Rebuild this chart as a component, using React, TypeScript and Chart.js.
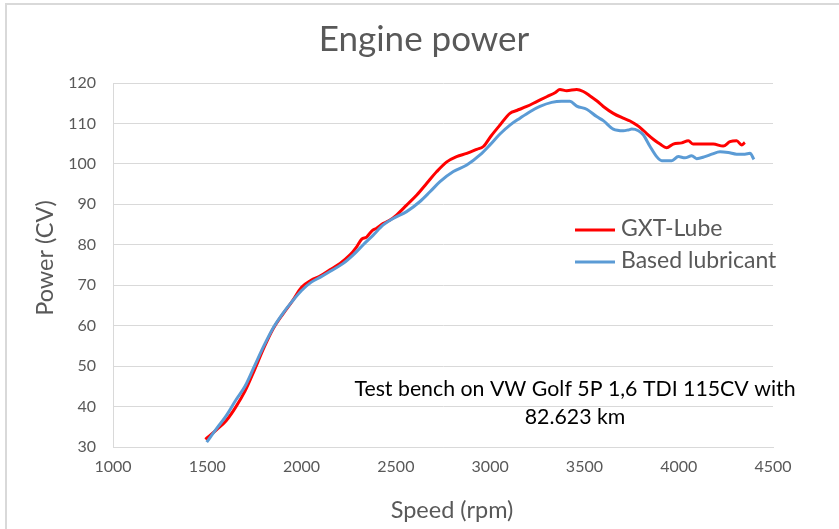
import React, { useEffect, useRef } from "react";
import { Chart, registerables } from "chart.js";

Chart.register(...registerables);

const gxtRpm = [1490, 1550, 1600, 1650, 1700, 1750, 1800, 1850, 1900, 1950, 2000, 2050, 2100, 2150, 2204, 2257, 2292, 2319, 2345, 2372, 2398, 2434, 2469, 2505, 2557, 2611, 2664, 2717, 2770, 2822, 2876, 2929, 2964, 3005, 3052, 3105, 3141, 3194, 3247, 3300, 3344, 3370, 3406, 3459, 3494, 3530, 3565, 3600, 3653, 3706, 3742, 3777, 3800, 3830, 3865, 3901, 3936, 3971, 4016, 4051, 4077, 4130, 4183, 4236, 4272, 4307, 4334, 4351];
const gxtPower = [31.9, 34.3, 36.5, 39.8, 43.8, 49, 54.5, 59.3, 62.8, 66, 69.5, 71.2, 72.3, 73.8, 75.4, 77.5, 79.5, 81.4, 81.9, 83.4, 84.1, 85.3, 86.1, 87.4, 89.8, 92.3, 95.2, 98.1, 100.5, 101.8, 102.6, 103.6, 104.3, 106.9, 109.6, 112.5, 113.2, 114.2, 115.4, 116.6, 117.6, 118.4, 118.1, 118.4, 117.9, 116.8, 115.6, 114.2, 112.5, 111.3, 110.6, 109.6, 108.8, 107.5, 106.1, 104.9, 104, 104.9, 105.2, 105.7, 104.9, 104.9, 104.9, 104.4, 105.5, 105.7, 104.7, 105.3];

const baseRpm = [1497, 1550, 1600, 1650, 1700, 1750, 1800, 1850, 1900, 1950, 2000, 2050, 2100, 2150, 2221, 2274, 2327, 2380, 2433, 2486, 2557, 2628, 2681, 2734, 2805, 2876, 2946, 2999, 3052, 3105, 3158, 3211, 3264, 3326, 3379, 3423, 3459, 3512, 3565, 3600, 3653, 3706, 3733, 3751, 3786, 3812, 3848, 3883, 3910, 3963, 3998, 4033, 4069, 4095, 4139, 4175, 4219, 4263, 4307, 4351, 4378, 4399];
const basePower = [31.2, 34.6, 37.7, 41.5, 45, 50, 55, 59.5, 63, 66, 68.7, 70.7, 72, 73.4, 75.4, 77.5, 80, 82.4, 84.9, 86.5, 88.2, 90.7, 93.1, 95.6, 98.1, 99.7, 102.2, 104.7, 107.4, 109.6, 111.3, 112.9, 114.2, 115.2, 115.5, 115.5, 114.3, 113.5, 111.7, 110.7, 108.6, 108.2, 108.4, 108.6, 108.2, 107.2, 104.3, 101.8, 100.8, 100.8, 101.8, 101.5, 102, 101.3, 101.8, 102.4, 103, 102.8, 102.4, 102.4, 102.6, 101.1];

const seriesNames = ["GXT-Lube", "Based lubricant"];
const seriesColors = ["#ff0000", "#5b9bd5"];
const titleText = "Engine power";
const xTitle = "Speed (rpm)";
const yTitle = "Power (CV)";
const noteLines = ["Test bench on VW Golf 5P 1,6 TDI 115CV with", "82.623 km"];

const FONT = "Lato";
const GREY = "#595959";

const decorPlugin = {
  id: "decor",
  beforeDraw(chart: any) {
    const ctx = chart.ctx;
    ctx.save();
    ctx.fillStyle = "#ffffff";
    ctx.fillRect(0, 0, chart.width, chart.height);
    ctx.strokeStyle = "#d9d9d9";
    ctx.lineWidth = 2;
    ctx.beginPath();
    ctx.moveTo(6, chart.height);
    ctx.lineTo(6, 4);
    ctx.lineTo(chart.width, 4);
    ctx.stroke();
    ctx.restore();
  },
  afterDraw(chart: any) {
    const ctx = chart.ctx;
    ctx.save();
    // title
    ctx.fillStyle = GREY;
    ctx.textAlign = "center";
    ctx.textBaseline = "middle";
    ctx.font = `35px ${FONT}`;
    ctx.fillText(titleText, 424, 40);
    // axis titles
    ctx.font = `23.5px ${FONT}`;
    ctx.fillText(xTitle, 452, 510);
    ctx.save();
    ctx.translate(45, 258);
    ctx.rotate(-Math.PI / 2);
    ctx.fillText(yTitle, 0, 0);
    ctx.restore();
    // legend
    ctx.textAlign = "left";
    ctx.font = `23px ${FONT}`;
    const ys = [229, 261];
    for (let i = 0; i < seriesNames.length; i++) {
      ctx.strokeStyle = seriesColors[i];
      ctx.lineWidth = 3;
      ctx.beginPath();
      ctx.moveTo(575, ys[i] + 1);
      ctx.lineTo(615, ys[i] + 1);
      ctx.stroke();
      ctx.fillStyle = GREY;
      ctx.fillText(seriesNames[i], 621, ys[i]);
    }
    // note
    ctx.fillStyle = "#000000";
    ctx.textAlign = "center";
    ctx.font = `21.3px ${FONT}`;
    ctx.fillText(noteLines[0], 575, 389);
    ctx.fillText(noteLines[1], 575, 417);
    ctx.restore();
  },
};

export default function App() {
  const ref = useRef<HTMLCanvasElement>(null);
  useEffect(() => {
    if (!ref.current) return;
    const chart = new Chart(ref.current, {
      type: "line",
      data: {
        datasets: [
          {
            label: seriesNames[0],
            data: gxtRpm.map((x, i) => ({ x, y: gxtPower[i] })),
            borderColor: seriesColors[0],
            backgroundColor: seriesColors[0],
            borderWidth: 3,
            pointRadius: 0,
            cubicInterpolationMode: "monotone",
            order: 1,
          },
          {
            label: seriesNames[1],
            data: baseRpm.map((x, i) => ({ x, y: basePower[i] })),
            borderColor: seriesColors[1],
            backgroundColor: seriesColors[1],
            borderWidth: 3,
            pointRadius: 0,
            cubicInterpolationMode: "monotone",
            order: 0,
          },
        ],
      },
      options: {
        animation: false,
        responsive: false,
        layout: { padding: { left: 0, right: 66, top: 83, bottom: 0 } },
        plugins: {
          legend: { display: false },
          title: { display: false },
          tooltip: { enabled: false },
        },
        scales: {
          x: {
            type: "linear",
            min: 1000,
            max: 4500,
            ticks: {
              stepSize: 500,
              color: GREY,
              font: { family: FONT, size: 16 },
              padding: 10,
              callback: (v: any) => String(v),
            },
            grid: { display: false, drawTicks: false },
            border: { display: true, color: "#d9d9d9", width: 1 },
            afterFit(scale: any) {
              scale.height = 82;
            },
          },
          y: {
            type: "linear",
            min: 30,
            max: 120,
            ticks: {
              stepSize: 10,
              color: GREY,
              font: { family: FONT, size: 16 },
              padding: 17,
              callback: (v: any) => String(v),
            },
            grid: { color: "#d9d9d9", lineWidth: 1, drawTicks: false },
            border: { display: true, color: "#d9d9d9", width: 1 },
            afterFit(scale: any) {
              scale.width = 113;
            },
          },
        },
      },
      plugins: [decorPlugin],
    });
    return () => chart.destroy();
  }, []);
  return (
    <div style={{ position: "fixed", left: 0, top: 0, width: 839, height: 529 }}>
      <canvas ref={ref} width={839} height={529} style={{ display: "block" }} />
    </div>
  );
}
